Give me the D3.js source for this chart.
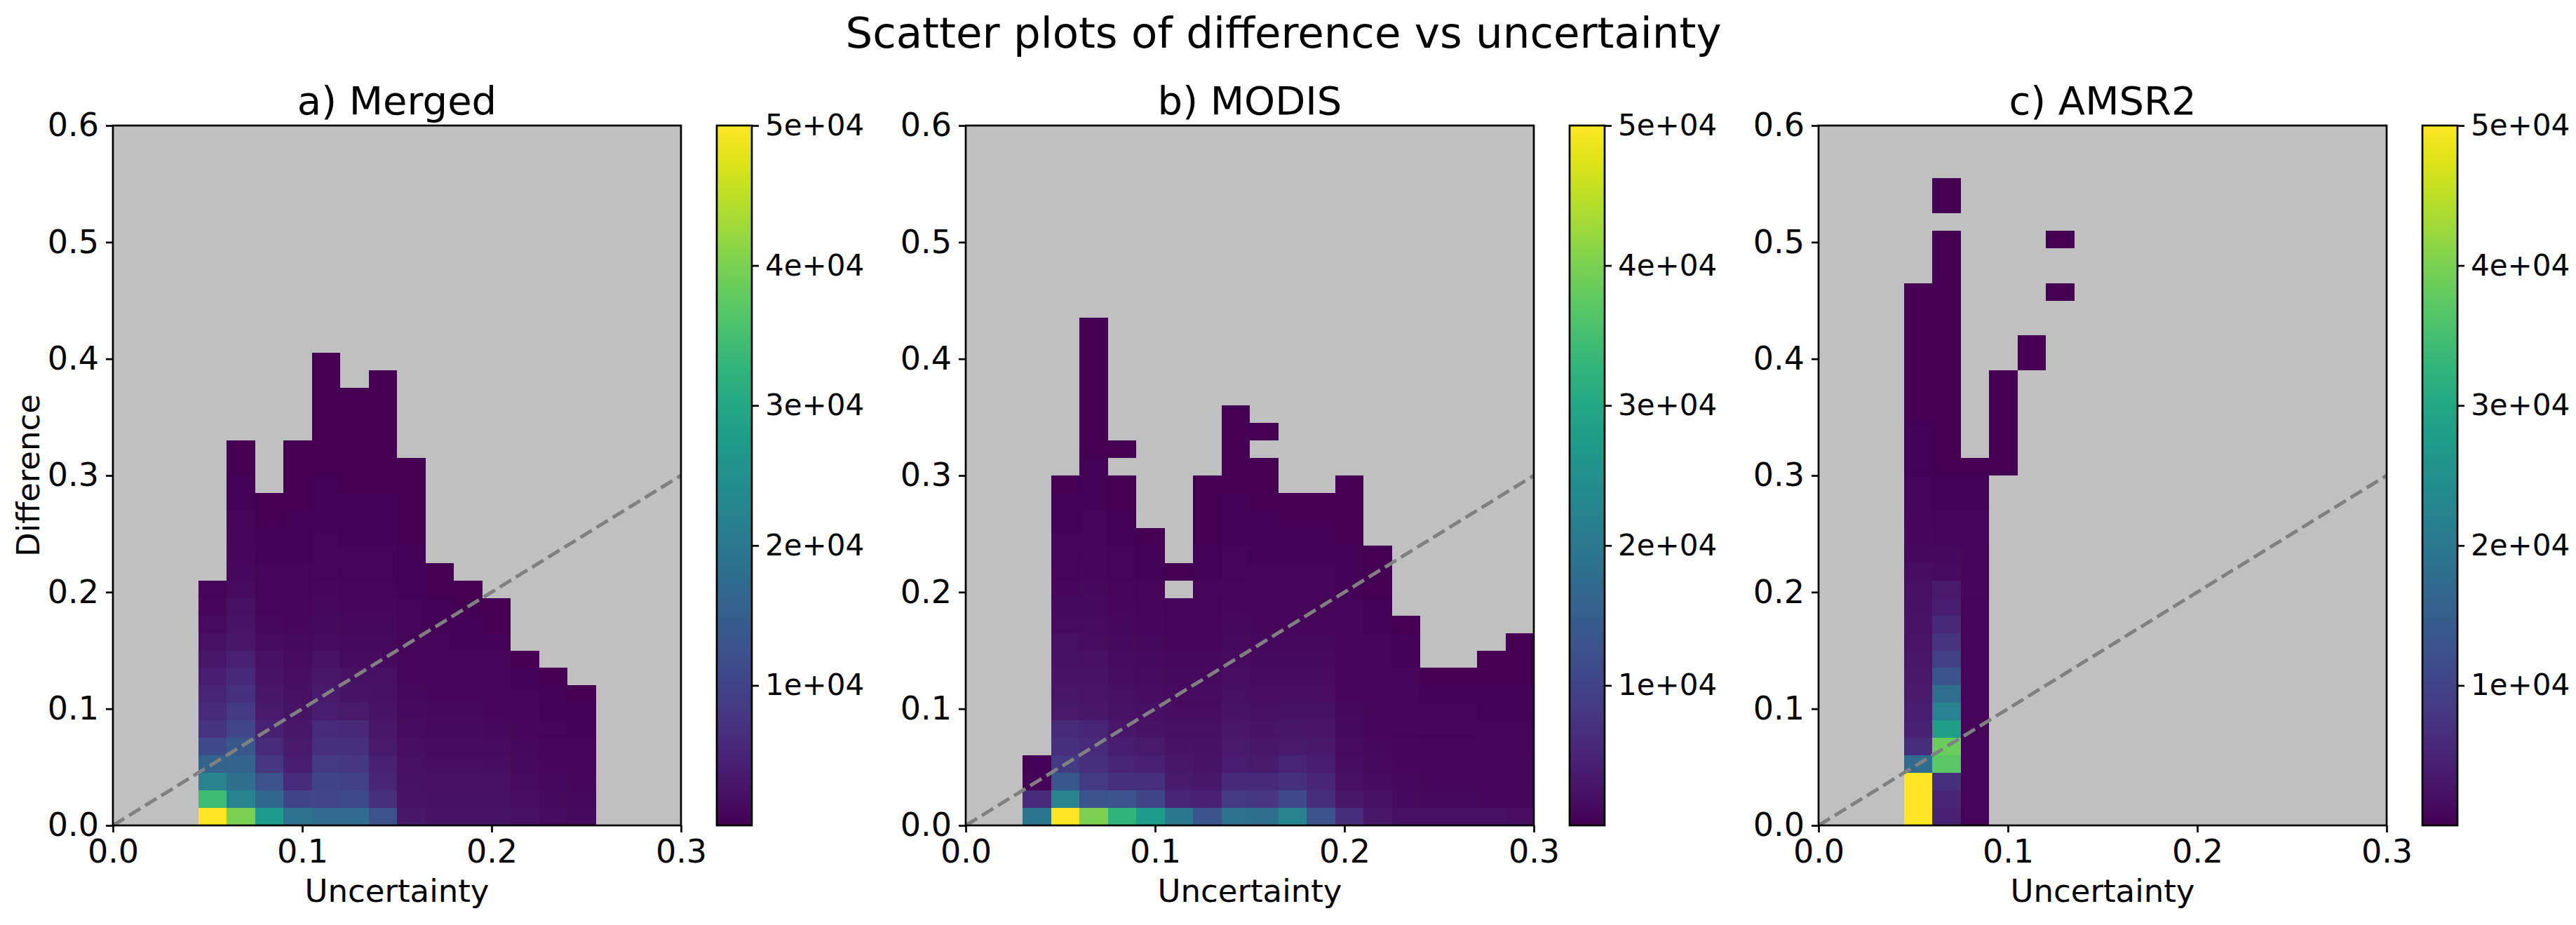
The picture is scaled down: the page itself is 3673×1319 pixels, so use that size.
<!DOCTYPE html>
<html>
<head>
<meta charset="utf-8">
<script src="https://cdn.jsdelivr.net/npm/d3@7"></script>
<style>
  body { margin: 0; background: #fff; }
  text { font-family: "DejaVu Sans", sans-serif; }
</style>
</head>
<body>
<div id="chart"></div>
<script>
(function() {
// bin size of the 2d histograms (same in x and y)
const binSize = 0.015;

const suptitle = "Scatter plots of difference vs uncertainty";
const titles = ["a) Merged", "b) MODIS", "c) AMSR2"];
const xTicks = [0, 0.1, 0.2, 0.3];
const yTicks = [0, 0.1, 0.2, 0.3, 0.4, 0.5, 0.6];
const colorTicks = [1e4, 2e4, 3e4, 4e4, 5e4];

// [x bin, first y bin, counts going up the column]  (null = empty bin)
const mergedCells = [
  [3, 0, [52000, 34500, 22500, 15500, 11000, 7500, 6000, 5000, 4000, 3000, 2000, 1500, 800, 400]],
  [4, 0, [40000, 22500, 18000, 16000, 13500, 10500, 8500, 7000, 5500, 4500, 3000, 2500, 2000, 1500, 1000, 800, 600, 400, 300, 200, 150, 100]],
  [5, 0, [27500, 16500, 12500, 8000, 6000, 4500, 3500, 3000, 2500, 2000, 1500, 1000, 700, 500, 400, 300, 200, 150, 100]],
  [6, 0, [18500, 10000, 6000, 4000, 3500, 3000, 2500, 2000, 1800, 1500, 1200, 900, 700, 500, 400, 300, 250, 200, 150, 100, 80, 50]],
  [7, 0, [17500, 10500, 10000, 8500, 7000, 6000, 4000, 3500, 3000, 2500, 1500, 1200, 1000, 800, 600, 500, 400, 300, 250, 200, 150, 120, 100, 80, 60, 50, 30]],
  [8, 0, [17500, 11000, 9500, 8000, 7000, 5500, 3500, 2500, 2200, 1500, 1200, 1000, 800, 600, 500, 400, 300, 250, 200, 150, 120, 100, 80, 60, 40]],
  [9, 0, [12500, 7000, 5000, 4500, 3500, 3000, 2500, 2200, 2000, 1500, 1200, 1000, 800, 600, 500, 400, 300, 250, 200, 150, 120, 100, 80, 60, 50, 40]],
  [10, 0, [3000, 2500, 2200, 2000, 1800, 1500, 1200, 1000, 800, 700, 600, 500, 400, 300, 250, 200, 150, 100, 80, 60, 40]],
  [11, 0, [2500, 2200, 2000, 1800, 1500, 1200, 1000, 800, 600, 500, 400, 300, 200, 100, 50]],
  [12, 0, [2500, 2300, 2000, 1800, 1500, 1200, 1000, 800, 600, 400, 300, 200, 100, 50]],
  [13, 0, [2500, 2200, 2000, 1700, 1400, 1100, 900, 700, 500, 400, 300, 150, 80]],
  [14, 0, [2000, 1800, 1500, 1200, 1000, 800, 600, 400, 200, 100]],
  [15, 0, [1500, 1300, 1100, 900, 700, 500, 300, 200, 100]],
  [16, 0, [1200, 1000, 800, 600, 450, 300, 200, 100]]
];

const modisCells = [
  [2, 0, [19500, 6000, 500, 200]],
  [3, 0, [52000, 22500, 13500, 8500, 7000, 6000, 3500, 3000, 2500, 2200, 2000, 1500, 1200, 800, 600, 500, 400, 300, 200, 100]],
  [4, 0, [40000, 12500, 8500, 7000, 6000, 5000, 3000, 2700, 2500, 2000, 1700, 1500, 1200, 1000, 800, 600, 500, 400, 300, 250, 200, 150, 120, 100, 80, 60, 50, 40, 30]],
  [5, 0, [32500, 13000, 7000, 5000, 4000, 3000, 2500, 2000, 1700, 1500, 1200, 1000, 800, 600, 500, 400, 300, 200, 150, 100, null, 30]],
  [6, 0, [27500, 10000, 7000, 4500, 3500, 2500, 2000, 1700, 1500, 1200, 1000, 800, 600, 400, 300, 200, 100]],
  [7, 0, [20000, 5000, 3500, 3000, 2500, 2000, 1700, 1500, 1200, 1000, 800, 600, 400, null, 50]],
  [8, 0, [13000, 4500, 3000, 2500, 2200, 2000, 1700, 1500, 1200, 1000, 800, 600, 500, 400, 300, 200, 150, 100, 60, 40]],
  [9, 0, [18500, 8500, 5500, 4000, 3500, 3000, 2500, 2000, 1800, 1500, 1200, 1000, 800, 600, 500, 400, 300, 250, 200, 150, 100, 80, 50, 30]],
  [10, 0, [18000, 8000, 5500, 3500, 3000, 2500, 2000, 1800, 1500, 1200, 1000, 800, 600, 500, 400, 300, 250, 200, 150, 100, 60, null, 30]],
  [11, 0, [22500, 11000, 7000, 5000, 3500, 2800, 2200, 1800, 1500, 1200, 1000, 800, 600, 500, 400, 300, 200, 100, 50]],
  [12, 0, [12500, 6500, 5000, 4000, 3200, 2600, 2200, 1800, 1500, 1200, 1000, 800, 600, 500, 400, 300, 200, 100, 50]],
  [13, 0, [6500, 3000, 2000, 1700, 1500, 1200, 1000, 900, 800, 700, 600, 500, 400, 300, 250, 200, 150, 100, 60, 30]],
  [14, 0, [3000, 2200, 1500, 1200, 1000, 900, 800, 700, 600, 500, 400, 300, 200, 150, 100, 50]],
  [15, 0, [2000, 1200, 1000, 900, 800, 700, 600, 500, 400, 300, 200, 100]],
  [16, 0, [2000, 1000, 800, 700, 600, 500, 400, 300, 150]],
  [17, 0, [2000, 1000, 800, 700, 600, 500, 400, 300, 150]],
  [18, 0, [2000, 900, 700, 600, 500, 400, 300, 200, 150, 100]],
  [19, 0, [1800, 900, 700, 600, 500, 400, 300, 200, 150, 100, 50]]
];

const amsr2Cells = [
  [3, 0, [55000, 55000, 52000, 17500, 6500, 4500, 4000, 3500, 3200, 3000, 2700, 2500, 2200, 2000, 1700, 1000, 800, 600, 500, 400, 300, 250, 200, 150, 120, 100, 80, 60, 50, 40, 30]],
  [4, 0, [4500, 5000, 7000, 37000, 38500, 28000, 22000, 18000, 13000, 9500, 7500, 5500, 4000, 3500, 1500, 1000, 600, 400, 300, 200, 150, 120, 100, 80, 60, 50, 40, 30, 30, 20, 20, 20, 10, 10, null, 5, 5]],
  [5, 0, [400, 400, 400, 400, 400, 400, 400, 400, 400, 400, 400, 400, 500, 800, 900, 900, 700, 500, 300, 200, 100]],
  [6, 20, [20, 20, 20, 20, 20, 20]],
  [7, 26, [10, 10]],
  [8, 30, [10, null, null, 10]]
];

// figure layout
const figW = 3673, figH = 1319;
const margin = {top: 179, left: 161},
      width = 810,
      height = 998,
      step = 1216;
const tickFont = 46, cbFont = 42, labelFont = 45, titleFont = 56;

let svg = d3.select("#chart")
  .append("svg")
    .attr("width", figW)
    .attr("height", figH);

svg.append("text")
  .attr("x", 1830)
  .attr("y", 68)
  .attr("text-anchor", "middle")
  .style("font-size", "61px")
  .text(suptitle);

let color = d3.scaleSequential(d3.interpolateViridis)
  .domain([0, 5e4])
  .clamp(true);

// style a d3 axis like matplotlib
function styleAxis(g, size) {
  g.attr("font-size", size).attr("font-family", "DejaVu Sans");
  g.select(".domain").remove();
  g.selectAll(".tick line").attr("stroke", "black").attr("stroke-width", 2.7);
  g.selectAll(".tick text").attr("fill", "black");
}

[mergedCells, modisCells, amsr2Cells].forEach(function(cells, i) {
  let g = svg.append("g")
    .attr("transform", "translate(" + (margin.left + i * step) + "," + margin.top + ")");

  let x = d3.scaleLinear().domain([0, 0.3]).range([0, width]);
  let y = d3.scaleLinear().domain([0, 0.6]).range([height, 0]);

  // gray background = empty bins
  g.append("rect")
    .attr("width", width)
    .attr("height", height)
    .attr("fill", "#c0c0c0");

  // flatten the columns into single cells
  let flat = [];
  cells.forEach(function(c) {
    c[2].forEach(function(v, k) {
      if (v != null) flat.push({col: c[0], row: c[1] + k, count: v});
    });
  });

  g.append("g")
    .selectAll("rect")
    .data(flat)
    .enter().append("rect")
      .attr("x", d => x(d.col * binSize))
      .attr("y", d => y((d.row + 1) * binSize))
      .attr("width", d => x((d.col + 1) * binSize) - x(d.col * binSize))
      .attr("height", d => y(d.row * binSize) - y((d.row + 1) * binSize))
      .attr("fill", d => color(d.count))
      .attr("shape-rendering", "crispEdges");

  // 1:1 line
  g.append("line")
    .attr("x1", x(0)).attr("y1", y(0))
    .attr("x2", x(0.3)).attr("y2", y(0.3))
    .attr("stroke", "#808080")
    .attr("stroke-width", 5)
    .attr("stroke-dasharray", "19,8");

  // axes
  g.append("g")
    .attr("transform", "translate(0," + height + ")")
    .call(d3.axisBottom(x).tickValues(xTicks).tickFormat(d3.format(".1f")).tickSize(10).tickPadding(10))
    .call(styleAxis, tickFont);
  g.append("g")
    .call(d3.axisLeft(y).tickValues(yTicks).tickFormat(d3.format(".1f")).tickSize(10).tickPadding(10))
    .call(styleAxis, tickFont);

  // frame
  g.append("rect")
    .attr("width", width)
    .attr("height", height)
    .attr("fill", "none")
    .attr("stroke", "black")
    .attr("stroke-width", 2.7);

  g.append("text")
    .attr("x", width / 2)
    .attr("y", -16)
    .attr("text-anchor", "middle")
    .style("font-size", titleFont + "px")
    .text(titles[i]);

  g.append("text")
    .attr("x", width / 2)
    .attr("y", 1286 - margin.top)
    .attr("text-anchor", "middle")
    .style("font-size", labelFont + "px")
    .text("Uncertainty");

  if (i === 0) {
    g.append("text")
      .attr("transform", "translate(" + (56 - margin.left) + "," + (height / 2) + ") rotate(-90)")
      .attr("text-anchor", "middle")
      .style("font-size", labelFont + "px")
      .text("Difference");
  }

  // colorbar
  let cbX = width + 51, cbW = 50;
  let grad = svg.append("defs").append("linearGradient")
    .attr("id", "cb" + i)
    .attr("x1", 0).attr("y1", 1).attr("x2", 0).attr("y2", 0);
  d3.range(0, 1.0001, 0.05).forEach(function(t) {
    grad.append("stop").attr("offset", t).attr("stop-color", d3.interpolateViridis(t));
  });

  let cb = g.append("g").attr("transform", "translate(" + cbX + ",0)");
  cb.append("rect")
    .attr("width", cbW)
    .attr("height", height)
    .attr("fill", "url(#cb" + i + ")");

  let cbScale = d3.scaleLinear().domain([0, 5e4]).range([height, 0]);
  cb.append("g")
    .attr("transform", "translate(" + cbW + ",0)")
    .call(d3.axisRight(cbScale).tickValues(colorTicks)
      .tickFormat(d => d.toExponential(0).replace("e+", "e+0"))
      .tickSize(10).tickPadding(9))
    .call(styleAxis, cbFont);

  cb.append("rect")
    .attr("width", cbW)
    .attr("height", height)
    .attr("fill", "none")
    .attr("stroke", "black")
    .attr("stroke-width", 2.7);
});
})();
</script>
</body>
</html>
